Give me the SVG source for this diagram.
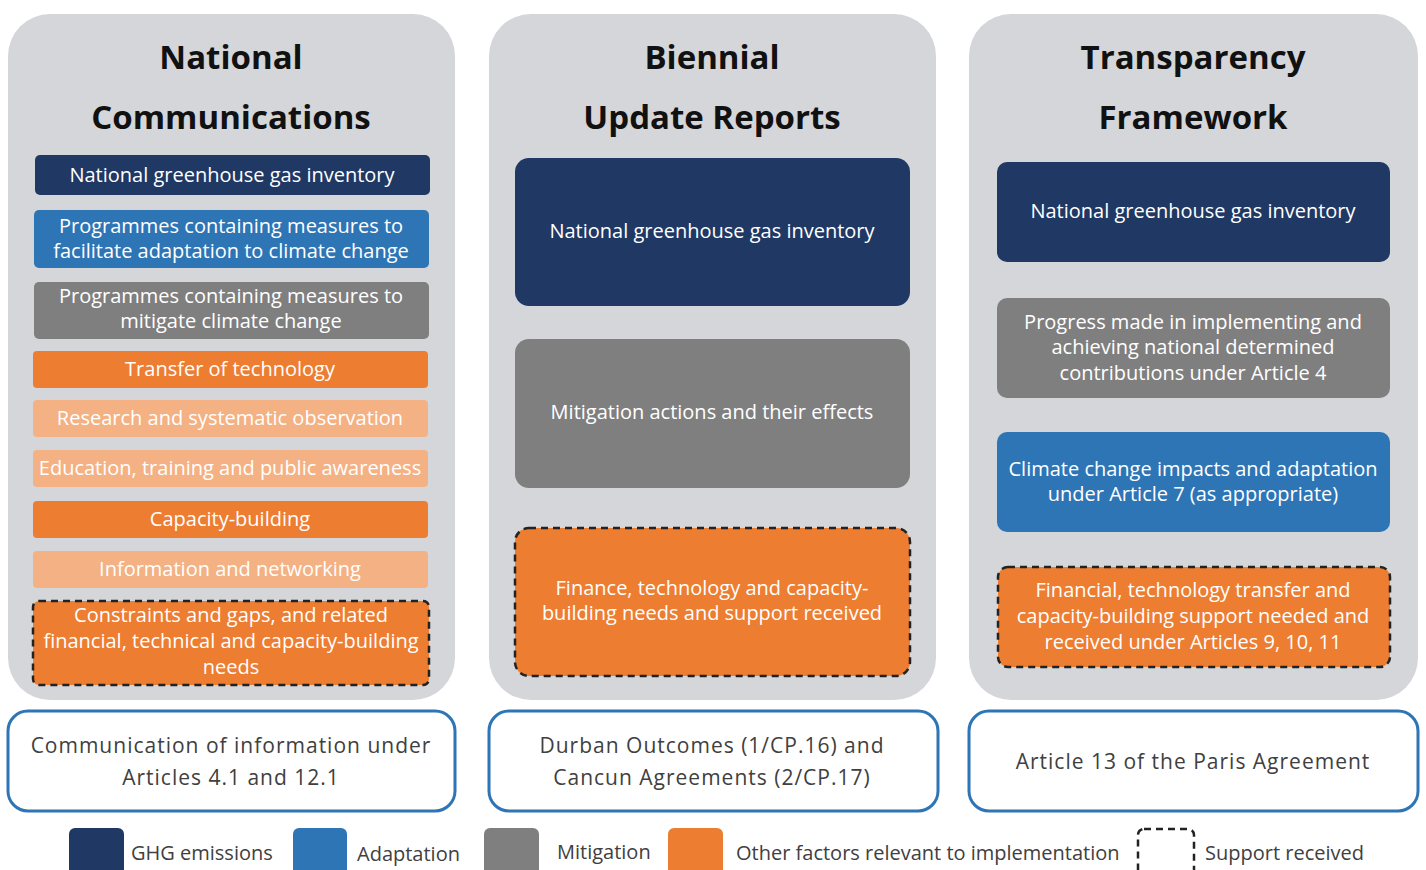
<svg xmlns="http://www.w3.org/2000/svg" width="1426" height="870" viewBox="0 0 1426 870">
<style>
.panel{fill:#d4d6da}
.title{font-family:"Open Sans","Liberation Sans",sans-serif;font-weight:bold;font-size:33px;fill:#111;text-anchor:middle}
.bx{font-family:"Open Sans","Liberation Sans",sans-serif;font-size:20px;fill:#fff;text-anchor:middle}
.navy{fill:#1f3864}
.blue{fill:#2e75b6}
.grey{fill:#7f7f7f}
.orng{fill:#ed7d31}
.lorng{fill:#f4b183}
.dash{stroke:#222;stroke-width:2.5;stroke-dasharray:7 5}
.src{fill:#fff;stroke:#2e75b6;stroke-width:3}
.st{font-family:"Open Sans","Liberation Sans",sans-serif;font-size:21px;letter-spacing:1px;fill:#404040;text-anchor:middle}
.lg{font-family:"Open Sans","Liberation Sans",sans-serif;font-size:20px;fill:#404040}
</style>
<rect width="1426" height="870" fill="#fff"/>

<g id="panel-nc">
<rect class="panel" x="8" y="14" width="447" height="686" rx="42"/>
<text class="title" x="231" y="69">National</text>
<text class="title" x="231" y="129">Communications</text>
</g>
<g id="panel-bur">
<rect class="panel" x="489" y="14" width="447" height="686" rx="42"/>
<text class="title" x="712" y="69">Biennial</text>
<text class="title" x="712" y="129">Update Reports</text>
</g>
<g id="panel-tf">
<rect class="panel" x="969" y="14" width="449" height="686" rx="42"/>
<text class="title" x="1193" y="69">Transparency</text>
<text class="title" x="1193" y="129">Framework</text>
</g>

<g id="nc1"><rect class="navy" x="35" y="155" width="395" height="40" rx="5"/><text class="bx" x="232" y="182">National greenhouse gas inventory</text></g>
<g id="nc2"><rect class="blue" x="34" y="210" width="395" height="58" rx="5"/><text class="bx" x="231" y="233">Programmes containing measures to</text><text class="bx" x="231" y="258">facilitate adaptation to climate change</text></g>
<g id="nc3"><rect class="grey" x="34" y="282" width="395" height="57" rx="5"/><text class="bx" x="231" y="303">Programmes containing measures to</text><text class="bx" x="231" y="328">mitigate climate change</text></g>
<g id="nc4"><rect class="orng" x="33" y="351" width="395" height="37" rx="4"/><text class="bx" x="230" y="376">Transfer of technology</text></g>
<g id="nc5"><rect class="lorng" x="33" y="400" width="395" height="37" rx="4"/><text class="bx" x="230" y="425">Research and systematic observation</text></g>
<g id="nc6"><rect class="lorng" x="33" y="450" width="395" height="37" rx="4"/><text class="bx" x="230" y="475">Education, training and public awareness</text></g>
<g id="nc7"><rect class="orng" x="33" y="501" width="395" height="37" rx="4"/><text class="bx" x="230" y="526">Capacity-building</text></g>
<g id="nc8"><rect class="lorng" x="33" y="551" width="395" height="37" rx="4"/><text class="bx" x="230" y="576">Information and networking</text></g>
<g id="nc9"><rect class="orng dash" x="33" y="601" width="396" height="84" rx="6"/><text class="bx" x="231" y="622">Constraints and gaps, and related</text><text class="bx" x="231" y="648">financial, technical and capacity-building</text><text class="bx" x="231" y="674">needs</text></g>

<g id="bur1"><rect class="navy" x="515" y="158" width="395" height="148" rx="14"/><text class="bx" x="712" y="238">National greenhouse gas inventory</text></g>
<g id="bur2"><rect class="grey" x="515" y="339" width="395" height="149" rx="14"/><text class="bx" x="712" y="419">Mitigation actions and their effects</text></g>
<g id="bur3"><rect class="orng dash" x="515" y="528" width="395" height="148" rx="14"/><text class="bx" x="712" y="595">Finance, technology and capacity-</text><text class="bx" x="712" y="620">building needs and support received</text></g>

<g id="tf1"><rect class="navy" x="997" y="162" width="393" height="100" rx="10"/><text class="bx" x="1193" y="218">National greenhouse gas inventory</text></g>
<g id="tf2"><rect class="grey" x="997" y="298" width="393" height="100" rx="10"/><text class="bx" x="1193" y="329">Progress made in implementing and</text><text class="bx" x="1193" y="354">achieving national determined</text><text class="bx" x="1193" y="380">contributions under Article 4</text></g>
<g id="tf3"><rect class="blue" x="997" y="432" width="393" height="100" rx="10"/><text class="bx" x="1193" y="476">Climate change impacts and adaptation</text><text class="bx" x="1193" y="501">under Article 7 (as appropriate)</text></g>
<g id="tf4"><rect class="orng dash" x="998" y="567" width="392" height="100" rx="10"/><text class="bx" x="1193" y="597">Financial, technology transfer and</text><text class="bx" x="1193" y="623">capacity-building support needed and</text><text class="bx" x="1193" y="649">received under Articles 9, 10, 11</text></g>

<g id="src1"><rect class="src" x="8" y="711" width="447" height="100" rx="20"/><text class="st" x="231" y="753">Communication of information under</text><text class="st" x="231" y="785">Articles 4.1 and 12.1</text></g>
<g id="src2"><rect class="src" x="489" y="711" width="449" height="100" rx="20"/><text class="st" x="712" y="753">Durban Outcomes (1/CP.16) and</text><text class="st" x="712" y="785">Cancun Agreements (2/CP.17)</text></g>
<g id="src3"><rect class="src" x="969" y="711" width="449" height="100" rx="20"/><text class="st" x="1193" y="769">Article 13 of the Paris Agreement</text></g>

<g id="legend">
<rect class="navy" x="69" y="828" width="55" height="50" rx="6"/><text class="lg" x="131" y="860">GHG emissions</text>
<rect class="blue" x="293" y="828" width="54" height="50" rx="6"/><text class="lg" x="357" y="861">Adaptation</text>
<rect class="grey" x="484" y="828" width="55" height="50" rx="6"/><text class="lg" x="557" y="859">Mitigation</text>
<rect class="orng" x="668" y="828" width="55" height="50" rx="6"/><text class="lg" x="736" y="860">Other factors relevant to implementation</text>
<rect fill="#fff" class="dash" x="1138" y="829" width="56" height="50" rx="6"/><text class="lg" x="1205" y="860">Support received</text>
</g>
</svg>
